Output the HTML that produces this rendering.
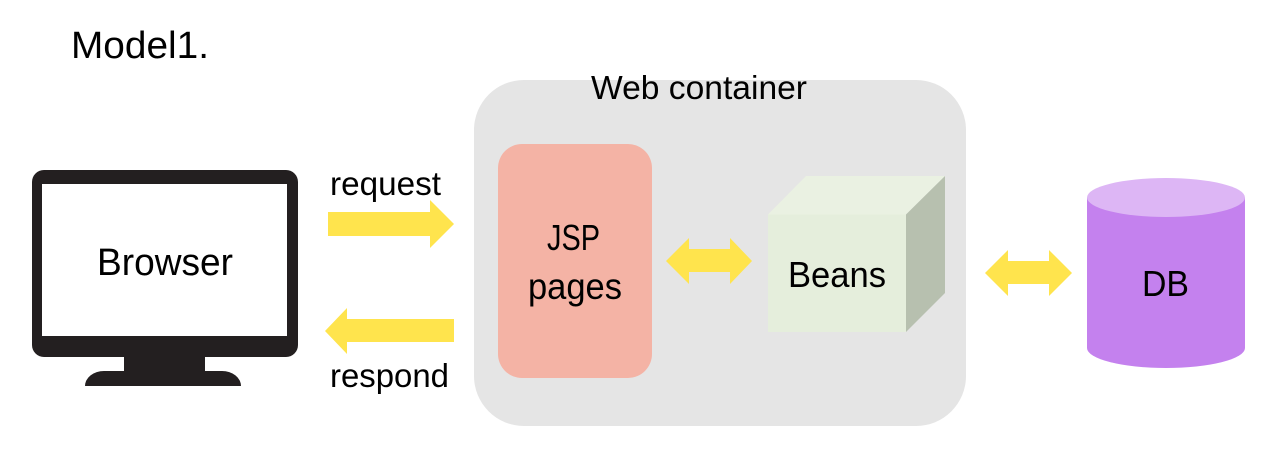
<!DOCTYPE html>
<html><head><meta charset="utf-8"><style>html,body{margin:0;padding:0;background:#fff;width:1270px;height:458px;overflow:hidden}svg{display:block}text{font-family:"Liberation Sans",sans-serif;fill:#000}</style></head><body>
<svg width="1270" height="458" viewBox="0 0 1270 458" xmlns="http://www.w3.org/2000/svg">
<rect x="474" y="80" width="492" height="346" rx="50" fill="#e5e5e5"/>
<rect x="498" y="144" width="154" height="234" rx="24" fill="#f4b3a5"/>
<path d="M32 182a12 12 0 0 1 12-12H286a12 12 0 0 1 12 12V345a12 12 0 0 1-12 12H205V371H222a19 15 0 0 1 19 15H85a19 15 0 0 1 19-15H124V357H44a12 12 0 0 1-12-12Z" fill="#231f20"/>
<rect x="42" y="184" width="245" height="152" fill="#fff"/>
<polygon points="328,212 430,212 430,200 454,224 430,248 430,236 328,236" fill="#ffe44d"/>
<polygon points="454,319 347,319 347,308 325,331 347,354 347,342 454,342" fill="#ffe44d"/>
<polygon points="666,261 689,238 689,249 730,249 730,238 752,261 730,284 730,272 689,272 689,284" fill="#ffe44d"/>
<polygon points="985,273 1008,250 1008,261 1049,261 1049,250 1072,273 1049,296 1049,284 1008,284 1008,296" fill="#ffe44d"/>
<polygon points="768,214.500 806,176 945,176 906,214.500" fill="#eaf1e2"/>
<rect x="768" y="214.500" width="138" height="117.500" fill="#e5eedc"/>
<polygon points="906,214.500 945,176 945,293 906,332" fill="#b7c0af"/>
<path d="M1087 197.500V348A79 20 0 0 0 1245 348V197.500Z" fill="#c481ee"/>
<ellipse cx="1166" cy="197.500" rx="79" ry="19.500" fill="#ddb6f5"/>
<text x="71" y="58" font-size="38" textLength="138" lengthAdjust="spacingAndGlyphs">Model1.</text>
<text x="591" y="99" font-size="33" textLength="216" lengthAdjust="spacingAndGlyphs">Web container</text>
<text x="97" y="275" font-size="38" textLength="136" lengthAdjust="spacingAndGlyphs">Browser</text>
<text x="330" y="195" font-size="33" textLength="111" lengthAdjust="spacingAndGlyphs">request</text>
<text x="330" y="387" font-size="33" textLength="119" lengthAdjust="spacingAndGlyphs">respond</text>
<text x="547" y="250" font-size="36" textLength="53" lengthAdjust="spacingAndGlyphs">JSP</text>
<text x="528" y="299" font-size="37" textLength="94" lengthAdjust="spacingAndGlyphs">pages</text>
<text x="788" y="287" font-size="36" textLength="98" lengthAdjust="spacingAndGlyphs">Beans</text>
<text x="1142" y="296" font-size="36" textLength="47" lengthAdjust="spacingAndGlyphs">DB</text>
</svg>
</body></html>
